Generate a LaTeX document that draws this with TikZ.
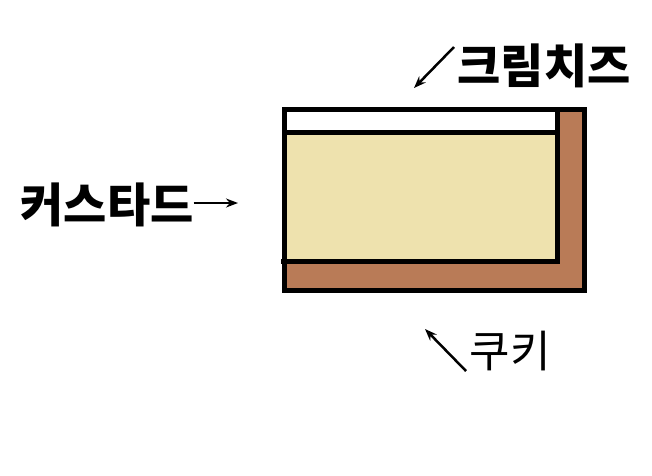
\documentclass[tikz,border=0pt]{standalone}
\usepackage{fontspec}
\usepackage{xcolor}
\usepackage{tikz}
\usetikzlibrary{positioning, arrows.meta}
\newfontfamily\krfont{Noto Sans CJK KR}
\definecolor{custard}{HTML}{EEE2AE}
\definecolor{cookie}{HTML}{B97B57}

\begin{document}
\begin{tikzpicture}[
				x=1pt, y=-1pt,
				label/.style={
					inner sep=0pt,
					font=\krfont\fontsize{44}{44}\selectfont
				},
				boldlabel/.style={
					label,
					font=\krfont\bfseries\fontsize{47}{47}\selectfont
				},
				edge/.style={line width=5pt},
				arrow/.style={-{Stealth[length=12pt, width=9pt]}, line width=2.5pt}
				]
				
				% fixed canvas
				\useasboundingbox (0,0) rectangle (652,475);
				
				% --- 1. Cake layers ---
				\fill[cookie] (284.5,109.5) rectangle (584.5,290.5);
				\fill[custard] (284.5,132) rectangle (557,261);
				\fill[white] (284.5,109.5) rectangle (557,132);
				
				\draw[edge] (557,109.5) -- (557,263.5);
				\draw[edge] (281,261) -- (557,261);
				\draw[edge] (284.5,132) -- (557,132);
				\draw[edge] (284.5,109.5) rectangle (584.5,290.5);
				
				% --- 2. Labels ---
				\node[boldlabel] (cheese) at (544,66) {크림치즈};
				\node[boldlabel] (custardlbl) at (107,205) {커스타드};
				\node[label] (cookielbl) at (510,351) {쿠키};
				
				% arrow end points
				\coordinate (cheeseA) at (454,47);
				\coordinate (cheeseB) at (414,88);
				\coordinate (custardB) at (238,203);
				\coordinate (cookieA) at (466,371);
				\coordinate (cookieB) at (425,329);
				
				\draw[arrow] (cheeseA) -- (cheeseB);
				\draw[arrow] (custardlbl.east |- custardB) -- (custardB);
				\draw[arrow] (cookieA) -- (cookieB);
				
			\end{tikzpicture}
\end{document}
